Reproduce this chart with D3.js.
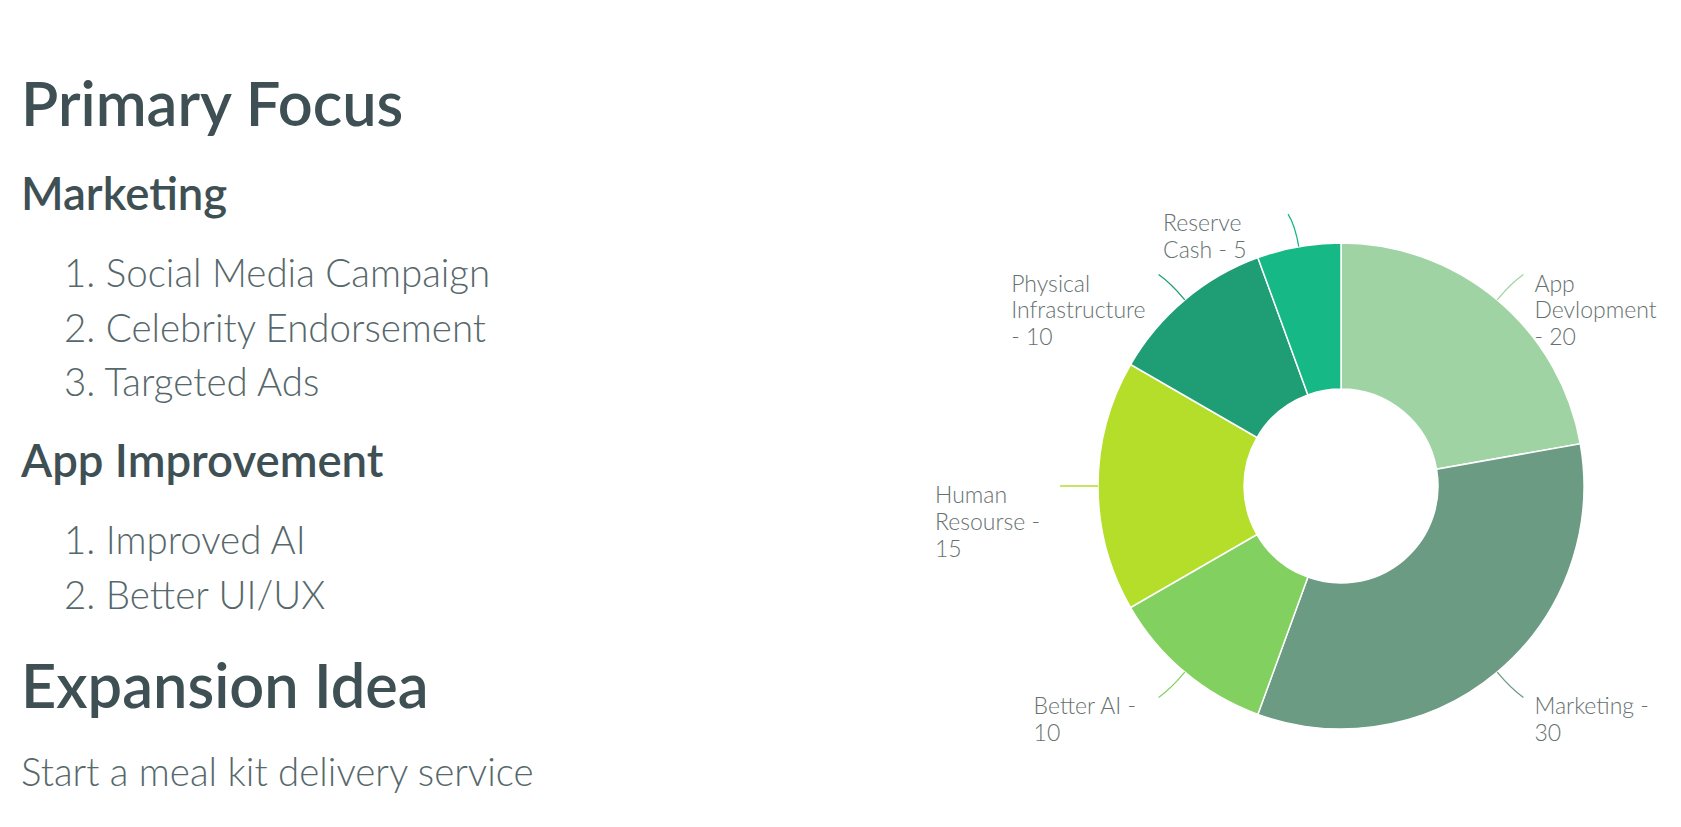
<!DOCTYPE html>
<html>
<head>
<meta charset="utf-8">
<script src="https://cdn.jsdelivr.net/npm/d3@7"></script>
<style>
  html, body { margin: 0; padding: 0; background: #ffffff; }
  svg { display: block; font-family: Lato, "Open Sans", sans-serif; }
</style>
</head>
<body>
<svg id="chart" width="1681" height="827"></svg>
<script>
// ---------- data ----------
const categories = ["App Devlopment", "Marketing", "Better AI", "Human Resourse", "Physical Infrastructure", "Reserve Cash"];
const values = [20, 30, 10, 15, 10, 5];
const colors = ["#a0d3a3", "#6b9b83", "#82d160", "#b5de2b", "#1f9e76", "#16b985"];
const labelLines = [
  ["App", "Devlopment", "- 20"],
  ["Marketing -", "30"],
  ["Better AI -", "10"],
  ["Human", "Resourse -", "15"],
  ["Physical", "Infrastructure", "- 10"],
  ["Reserve", "Cash - 5"]
];
const marketingItems = ["1. Social Media Campaign", "2. Celebrity Endorsement", "3. Targeted Ads"];
const appItems = ["1. Improved AI", "2. Better UI/UX"];
const expansionText = "Start a meal kit delivery service";

// ---------- layout ----------
const svg = d3.select("#chart");
const headColor = "#3e5053";
const bodyColor = "#56686b";
const left = 21;

const textBlock = svg.append("g");
function addText(str, x, y, size, weight, color) {
  textBlock.append("text")
    .attr("x", x).attr("y", y)
    .attr("font-size", size).attr("font-weight", weight)
    .attr("fill", color).text(str);
}
addText("Primary Focus", left, 126, 61.3, 600, headColor);
addText("Marketing", left, 210, 45.5, 600, headColor);
marketingItems.forEach((t, i) => addText(t, 64, 287 + i * 54.5, 38.5, 300, bodyColor));
addText("App Improvement", left, 477, 45.5, 600, headColor);
appItems.forEach((t, i) => addText(t, 64, 554 + i * 54.5, 38.5, 300, bodyColor));
addText("Expansion Idea", left, 708, 61.3, 600, headColor);
addText(expansionText, left, 786, 38.5, 300, bodyColor);

// ---------- donut ----------
const cx = 1341, cy = 486, rOuter = 243, rInner = 97;
const g = svg.append("g").attr("transform", `translate(${cx},${cy})`);
const pie = d3.pie().sort(null).value(d => d)(values);
const arc = d3.arc().innerRadius(rInner).outerRadius(rOuter);

g.selectAll("path.slice").data(pie).join("path")
  .attr("class", "slice")
  .attr("d", arc)
  .attr("fill", (d, i) => colors[i])
  .attr("stroke", "#ffffff")
  .attr("stroke-width", 1.5);

const pt = (r, a) => [r * Math.sin(a), -r * Math.cos(a)];
const fontSize = 23, lineH = 26.8;

pie.forEach((d, i) => {
  const a = (d.startAngle + d.endAngle) / 2;
  const side = Math.sin(a) >= 0 ? 1 : -1;
  const p0 = pt(rOuter, a);
  const c = pt(rOuter + 22, a);
  const e = pt(rOuter + 33, a);
  const end = [e[0] + side * 5, e[1]];
  const path = d3.path();
  path.moveTo(p0[0], p0[1]);
  path.quadraticCurveTo(c[0], c[1], end[0], end[1]);
  g.append("path").attr("d", path.toString())
    .attr("fill", "none").attr("stroke", colors[i]).attr("stroke-width", 1.3);

  const t = g.append("text")
    .attr("font-size", fontSize).attr("font-weight", 300).attr("fill", "#66716f");
  labelLines[i].forEach((ln, j) => {
    t.append("tspan").attr("dy", j === 0 ? 0 : lineH).text(ln);
  });
  let w = 0;
  t.selectAll("tspan").each(function () { w = Math.max(w, this.getComputedTextLength()); });
  const gap = 13;
  const x = side > 0 ? end[0] + 11 : end[0] - gap - Math.max(w, 112);
  const y = end[1] + 17;
  t.attr("y", y);
  t.selectAll("tspan").attr("x", x);
});
</script>
</body>
</html>
